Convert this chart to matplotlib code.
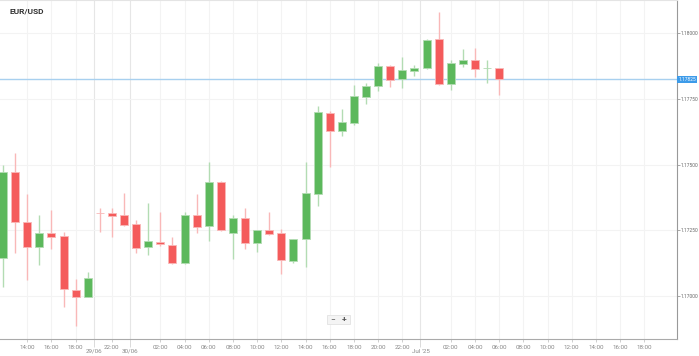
import matplotlib
matplotlib.use("Agg")
import matplotlib.pyplot as plt
import matplotlib.transforms as mtransforms
from matplotlib.patches import Rectangle
import numpy as np

plt.rcParams["font.family"] = ["Roboto", "DejaVu Sans"]

# hourly EUR/USD candles
opens = [1.17144, 1.17472, 1.17283, 1.17188, 1.17239, 1.17229, 1.17023, 1.16998,
         1.17317, 1.17317, 1.17309, 1.17273, 1.17186, 1.17206, 1.17194, 1.17125,
         1.17309, 1.17268, 1.17435, 1.17239, 1.17298, 1.17201, 1.17250, 1.17239,
         1.17134, 1.17216, 1.17389, 1.17698, 1.17628, 1.17660, 1.17759, 1.17799,
         1.17876, 1.17825, 1.17858, 1.17867, 1.17977, 1.17808, 1.17884, 1.17898,
         1.17867, 1.17867]
highs = [1.17499, 1.17543, 1.17389, 1.17309, 1.17328, 1.17245, 1.17064, 1.17093,
         1.17334, 1.17334, 1.17391, 1.17290, 1.17353, 1.17321, 1.17224, 1.17321,
         1.17389, 1.17511, 1.17438, 1.17309, 1.17334, 1.17252, 1.17321, 1.17254,
         1.17218, 1.17511, 1.17723, 1.17704, 1.17712, 1.17803, 1.17810, 1.17888,
         1.17878, 1.17911, 1.17878, 1.17978, 1.18080, 1.17898, 1.17941, 1.17943,
         1.17898, 1.17868]
lows = [1.17036, 1.17163, 1.17059, 1.17118, 1.17179, 1.16960, 1.16884, 1.16995,
        1.17245, 1.17226, 1.17268, 1.17165, 1.17156, 1.17190, 1.17122, 1.17122,
        1.17239, 1.17210, 1.17249, 1.17140, 1.17178, 1.17169, 1.17233, 1.17084,
        1.17125, 1.17112, 1.17343, 1.17492, 1.17609, 1.17651, 1.17730, 1.17782,
        1.17797, 1.17793, 1.17839, 1.17865, 1.17803, 1.17784, 1.17873, 1.17833,
        1.17810, 1.17765]
closes = [1.17473, 1.17283, 1.17188, 1.17239, 1.17226, 1.17026, 1.16998, 1.17070,
          1.17316, 1.17306, 1.17271, 1.17182, 1.17210, 1.17197, 1.17125, 1.17309,
          1.17262, 1.17435, 1.17252, 1.17298, 1.17201, 1.17250, 1.17235, 1.17137,
          1.17216, 1.17391, 1.17701, 1.17629, 1.17662, 1.17761, 1.17799, 1.17876,
          1.17821, 1.17860, 1.17867, 1.17976, 1.17806, 1.17886, 1.17897, 1.17864,
          1.17869, 1.17825]

last_price = 1.17825

time_ticks = [2, 4, 6, 9, 13, 15, 17, 19, 21, 23, 25, 27, 29, 31, 33,
              37, 39, 41, 43, 45, 47, 49, 51, 53]
time_labels = ["14:00", "16:00", "18:00", "22:00", "02:00", "04:00", "06:00",
               "08:00", "10:00", "12:00", "14:00", "16:00", "18:00", "20:00",
               "22:00", "02:00", "04:00", "06:00", "08:00", "10:00", "12:00",
               "14:00", "16:00", "18:00"]
date_ticks = [7.5, 10.5, 34.5]
date_labels = ["29/06", "30/06", "Jul '25"]
price_ticks = [1.17000, 1.17250, 1.17500, 1.17750, 1.18000]

green = "#5cb85c"
red = "#f45b5b"
green_light = "#b3dcb3"
red_light = "#f9b8b8"

o = np.array(opens)
h = np.array(highs)
l = np.array(lows)
c = np.array(closes)
x = np.arange(len(o))
up = c >= o

fig = plt.figure(figsize=(6.99, 3.56), dpi=100)
ax = fig.add_axes([0, 17 / 356, 677 / 699, 339 / 356])

ax.vlines(x, l, h, colors=np.where(up, green_light, red_light), linewidth=1, zorder=2)
ax.bar(x, c - o, bottom=o, width=0.66,
       color=np.where(up, green, red),
       edgecolor=np.where(up, green_light, red_light),
       linewidth=0.6, zorder=3)

ax.set_xlim(-0.25, 55.7)
ax.set_ylim(1.168363, 1.181268)

# grid
ax.set_xticks(time_ticks, time_labels)
ax.set_xticks(date_ticks, date_labels, minor=True)
ax.set_yticks(price_ticks, [f"{p:.5f}" for p in price_ticks])
ax.grid(True, which="major", color="#f3f3f3", linewidth=0.8, zorder=0)
for d in date_ticks:
    ax.axvline(d, color="#e6e6e6", linewidth=0.8, zorder=0)
ax.set_axisbelow(True)

ax.yaxis.tick_right()
ax.tick_params(axis="y", length=2, width=0.6, color="#999999", labelsize=3.5,
               labelcolor="#666666", pad=0.8)
ax.tick_params(axis="x", which="major", length=2, width=0.5, color="#bbbbbb",
               labelsize=4.5, labelcolor="#888888", pad=2)
ax.tick_params(axis="x", which="minor", length=6, width=0.5, color="#cccccc",
               labelsize=4.5, labelcolor="#888888", pad=1)

ax.spines["left"].set_visible(False)
ax.spines["top"].set_color("#e4e4e4")
ax.spines["top"].set_linewidth(0.8)
ax.spines["right"].set_color("#999999")
ax.spines["right"].set_linewidth(0.8)
ax.spines["bottom"].set_color("#aaaaaa")
ax.spines["bottom"].set_linewidth(0.8)

# last price line + tag
ax.axhline(last_price, color="#a8d0ef", linewidth=1, zorder=1)
trans = mtransforms.blended_transform_factory(ax.transAxes, ax.transData)
ax.text(1.002, last_price, f"{last_price:.5f}", transform=trans, fontsize=3.5,
        color="white", va="center", ha="left",
        bbox=dict(boxstyle="square,pad=0.2", facecolor="#3d9be9", edgecolor="none"),
        clip_on=False)

ax.text(0.014, 0.968, "EUR/USD", transform=ax.transAxes, fontsize=6,
        fontweight="bold", color="#333333", va="center", ha="left")

# zoom buttons
fig.patches.append(Rectangle((327 / 699, 32 / 356), 23 / 699, 9 / 356,
                             transform=fig.transFigure, facecolor="#f4f4f4",
                             edgecolor="#e2e2e2", linewidth=0.6))
fig.text(333 / 699, 36.5 / 356, "\u2212", fontsize=6, color="#555555",
         ha="center", va="center")
fig.text(344 / 699, 36.5 / 356, "+", fontsize=6, color="#555555",
         ha="center", va="center", fontweight="bold")

fig.savefig("out.png", dpi=100)
